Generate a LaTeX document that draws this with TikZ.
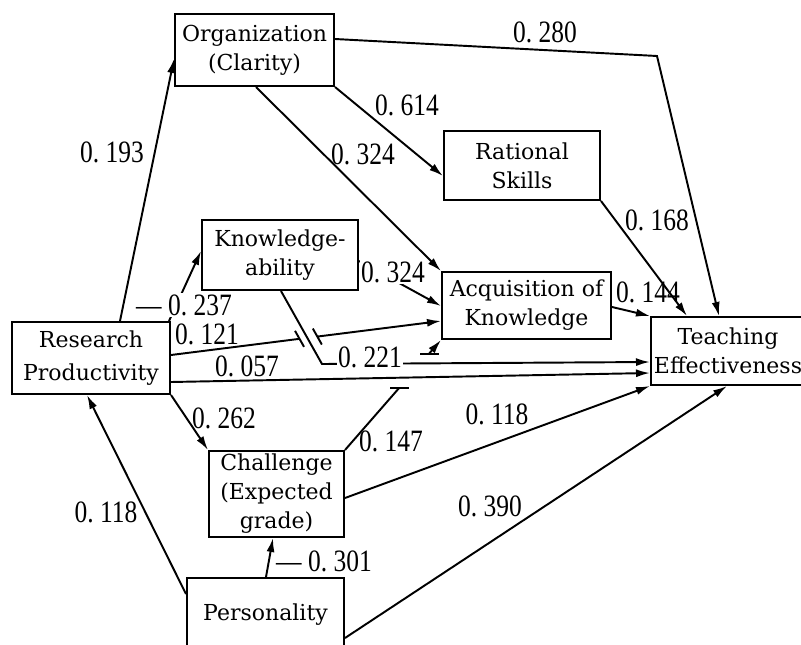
\documentclass[tikz,border=0pt]{standalone}
\usepackage{fontspec}
\setmainfont{DejaVu Serif}
\newfontfamily\numfont[FakeStretch=0.82]{Liberation Serif}
\usetikzlibrary{calc,arrows.meta}
\begin{document}
\frenchspacing
\begin{tikzpicture}[x=0.75pt,y=-0.75pt,
  box/.style={draw, line width=1.5pt, align=center, inner sep=0pt,
    font=\fontsize{16.5}{21.75}\selectfont},
  num/.style={font=\numfont\fontsize{23.3}{24}\selectfont, inner sep=1pt},
  wnum/.style={num, fill=white},
  edge/.style={line width=1.45pt},
  arr/.style={edge, -{Latex[length=10.5pt,width=6pt]}}]
\useasboundingbox (0,0) rectangle (801,644);

% boxes
\node[box, minimum width=119.25pt, minimum height=54pt]   (org)   at (254.5,50)  {Organization\\(Clarity)};
\node[box, minimum width=117pt,    minimum height=51.75pt] (rat)   at (522,165.5) {Rational\\Skills};
\node[box, minimum width=117pt,    minimum height=52.5pt]  (know)  at (280,255)   {Knowledge-\\ability};
\node[box, minimum width=126.75pt, minimum height=50.25pt] (acq)   at (526.5,305.5) {Acquisition of\\Knowledge};
\node[box, minimum width=115.5pt,  minimum height=51pt]    (teach) at (728,351)   {Teaching\\Effectiveness};
\node[box, minimum width=118.5pt,  minimum height=54pt]    (res)   at (91,358)    {Research\\[3pt]Productivity};
\node[box, minimum width=101.25pt, minimum height=64.5pt]  (chal)  at (276.5,494) {Challenge\\(Expected\\grade)};
\node[box, minimum width=117.75pt, minimum height=55.5pt]  (pers)  at (265.5,615) {Personality};

% Research -> Organization
\draw[arr] ($(res.north west)+(109,0)$) -- ($(org.north west)+(0,46)$);
% Research -> Knowledgeability
\draw[arr] ($(res.north east)+(-2,0)$) -- ($(know.north west)+(0,32)$);
% Knowledgeability -> Teaching (0.221)
\draw[arr] ($(know.south west)+(80,0)$) -- ++(41,73) -- ($(teach.north west)+(0,46)$);
% Research -> Acquisition (0.121), broken at the crossing
\coordinate (a121) at ($(res.north east)+(0,34)$);
\coordinate (b121) at ($(acq.north west)+(0,50)$);
\coordinate (g1) at ($(a121)!0.476!(b121)$);
\coordinate (g2) at ($(a121)!0.542!(b121)$);
\draw[edge] (a121) -- (g1);
\draw[arr] (g2) -- (b121);
\draw[edge] ($(g1)+(-4.5,-8)$) -- ($(g1)+(4.5,8)$);
\draw[edge] ($(g2)+(-4.5,-8)$) -- ($(g2)+(4.5,8)$);
% Knowledgeability -> Acquisition
\draw[arr] ($(know.north east)+(0,42)$) -- ($(acq.north west)+(0,35)$);
% Organization -> Acquisition
\draw[arr] ($(org.south west)+(82,0)$) -- (acq.north west);
% Organization -> Rational
\draw[arr] (org.south east) -- ($(rat.north west)+(0,46)$);
% Organization -> Teaching
\coordinate (c280) at (657,56);
\draw[arr] ($(org.north east)+(0,26)$) -- (c280) -- ($(teach.north west)+(69,0)$);
% Rational -> Teaching
\draw[arr] (rat.south east) -- ($(teach.north west)+(37,0)$);
% Acquisition -> Teaching
\draw[arr] ($(acq.north east)+(0,36)$) -- (teach.north west);
% Research -> Teaching
\draw[arr] ($(res.south east)+(0,-13)$) -- ($(teach.north west)+(0,57)$);
% Research -> Challenge
\draw[arr] (res.south east) -- (chal.north west);
% Challenge -> Acquisition (0.147), broken
\coordinate (a147) at (chal.north east);
\coordinate (b147) at (acq.south west);
\coordinate (h1) at ($(a147)!0.5625!(b147)$);
\coordinate (h2) at ($(a147)!0.875!(b147)$);
\draw[edge] (a147) -- (h1);
\draw[arr] (h2) -- (b147);
\draw[edge] ($(h1)+(-9,0)$) -- ($(h1)+(10,0)$);
\draw[edge] ($(h2)+(-9,0)$) -- ($(h2)+(10,0)$);
% Challenge -> Teaching
\draw[arr] ($(chal.north east)+(0,48)$) -- (teach.south west);
% Personality -> Challenge
\draw[arr] ($(pers.north west)+(80,0)$) -- ($(chal.south west)+(65,0)$);
% Personality -> Research
\draw[arr] ($(pers.north west)+(0,17)$) -- ($(res.south west)+(76,0)$);
% Personality -> Teaching
\draw[arr] ($(pers.north east)+(0,61)$) -- ($(teach.south west)+(77,0)$);

% labels
\node[num]  (l193)  at (112,152) {0. 193};
\node[wnum] (l237)  at (184,305) {\textemdash\ 0. 237};
\node[num]  (l121)  at (207,334) {0. 121};
\node[num]  (l057)  at (247,366) {0. 057};
\node[num]  (l262)  at (224,418) {0. 262};
\node[num]  (l280)  at (545,32)  {0. 280};
\node[num]  (l614)  at (407,105) {0. 614};
\node[num]  (l324a) at (363,154) {0. 324};
\node[wnum] (l324b) at (393,272) {0. 324};
\node[num]  (l168)  at (657,220) {0. 168};
\node[num]  (l144)  at (648,292) {0. 144};
\node[wnum] (l221)  at (370,357) {0. 221};
\node[num]  (l118a) at (497,414) {0. 118};
\node[num]  (l147)  at (391,441) {0. 147};
\node[num]  (l390)  at (490,506) {0. 390};
\node[num]  (l301)  at (324,561) {\textemdash\ 0. 301};
\node[num]  (l118b) at (106,512) {0. 118};
\end{tikzpicture}
\end{document}
